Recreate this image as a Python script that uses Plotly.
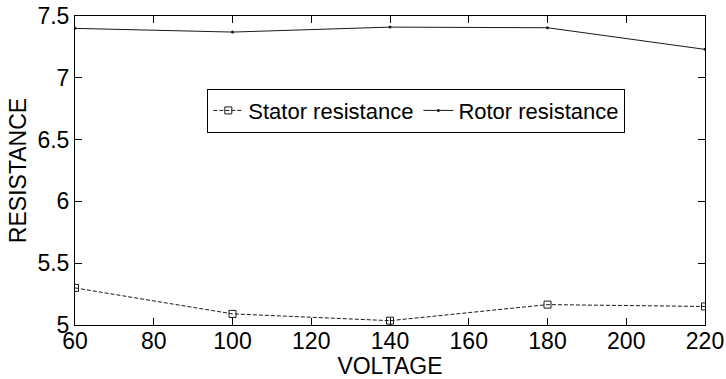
import plotly.graph_objects as go

voltage = [60, 100, 140, 180, 220]
stator_resistance = [5.30, 5.09, 5.035, 5.165, 5.15]
rotor_resistance = [7.40, 7.37, 7.41, 7.405, 7.23]

x_ticks = [60, 80, 100, 120, 140, 160, 180, 200, 220]
y_ticks = [5, 5.5, 6, 6.5, 7, 7.5]
y_tick_text = ["5", "5.5", "6", "6.5", "7", "7.5"]

FONT = "Liberation Sans, Arial, sans-serif"

fig = go.Figure()
fig.add_trace(go.Scatter(
    x=voltage, y=stator_resistance, mode="lines+markers",
    name="Stator resistance",
    line=dict(color="#1a1a1a", width=1, dash="4px,2px"),
    marker=dict(symbol="square-open", size=7, color="#1a1a1a", line=dict(width=1)),
))
fig.add_trace(go.Scatter(
    x=voltage, y=rotor_resistance, mode="lines+markers",
    name="Rotor resistance",
    line=dict(color="#1a1a1a", width=1),
    marker=dict(symbol="circle", size=3, color="#1a1a1a"),
))

axis_common = dict(
    showgrid=False, zeroline=False, showline=True, linecolor="black", linewidth=1,
    mirror="allticks", ticks="inside", ticklen=7, tickcolor="black", tickwidth=1,
    tickfont=dict(family=FONT, size=23, color="black"), automargin=False,
)

fig.update_layout(
    width=726, height=379,
    margin=dict(l=75, r=21, t=16, b=54),
    paper_bgcolor="white", plot_bgcolor="white",
    font=dict(family=FONT, size=22, color="black"),
    xaxis=dict(range=[60, 220], tickvals=x_ticks, ticklabelstandoff=-5,
               title=dict(text="VOLTAGE", font=dict(family=FONT, size=23), standoff=0),
               **axis_common),
    yaxis=dict(range=[5, 7.5], tickvals=y_ticks, ticktext=y_tick_text,
               title=dict(text="RESISTANCE", font=dict(family=FONT, size=23), standoff=4),
               **axis_common),
    legend=dict(orientation="h", x=0.21, y=0.765, xanchor="left", yanchor="top",
                bordercolor="black", borderwidth=1, bgcolor="white",
                font=dict(family=FONT, size=22), itemwidth=30,
                tracegroupgap=0),
    showlegend=True,
)

fig.write_html("out.html")
